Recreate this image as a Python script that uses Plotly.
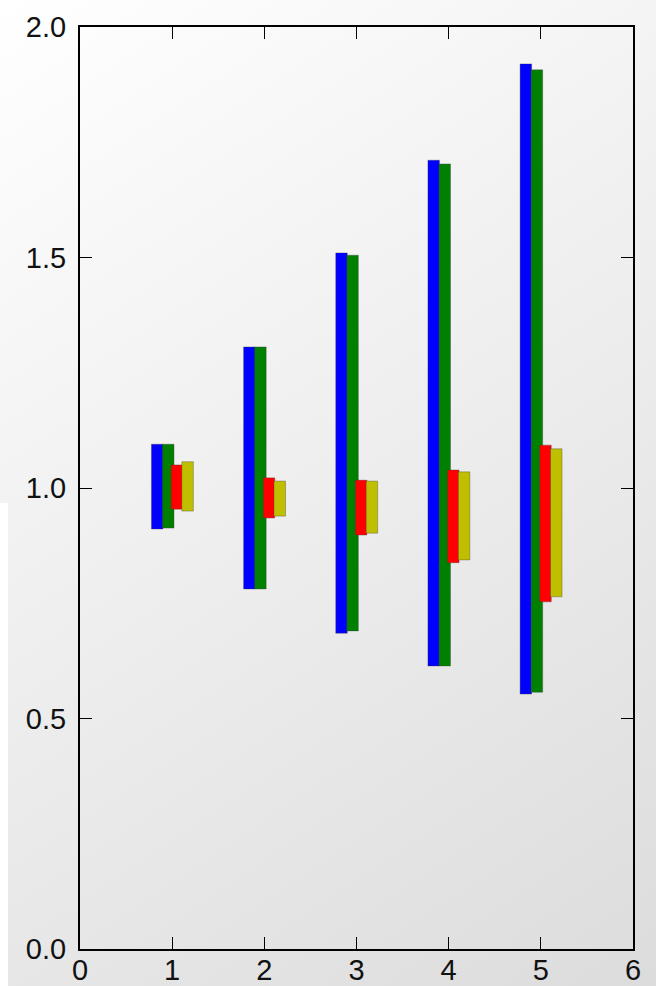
import base64
import plotly.graph_objects as go

groups = [1, 2, 3, 4, 5]

blue_top = [1.095, 1.306, 1.510, 1.711, 1.920]
blue_bottom = [0.911, 0.781, 0.685, 0.614, 0.553]
green_top = [1.095, 1.306, 1.505, 1.703, 1.907]
green_bottom = [0.913, 0.781, 0.690, 0.614, 0.557]
red_top = [1.050, 1.022, 1.017, 1.039, 1.093]
red_bottom = [0.954, 0.935, 0.898, 0.838, 0.753]
yellow_top = [1.057, 1.015, 1.015, 1.035, 1.085]
yellow_bottom = [0.950, 0.939, 0.902, 0.844, 0.764]

x_ticks = [0, 1, 2, 3, 4, 5, 6]
y_ticks = [0.0, 0.5, 1.0, 1.5, 2.0]
y_ticklabels = ["0.0", "0.5", "1.0", "1.5", "2.0"]

series = [
    (blue_top, blue_bottom, "#0000ff", -0.225),
    (green_top, green_bottom, "#008000", -0.105),
    (red_top, red_bottom, "#ff0000", -0.012),
    (yellow_top, yellow_bottom, "#bfbf00", 0.105),
]

fig = go.Figure()
for top, bottom, color, off in series:
    fig.add_trace(go.Bar(
        x=groups,
        y=[t - b for t, b in zip(top, bottom)],
        base=bottom,
        width=0.125,
        offset=off,
        marker=dict(color=color, line=dict(color="rgba(60,60,60,0.35)", width=1)),
        showlegend=False,
        hoverinfo="skip",
    ))

W, H = 656, 986
L, R, T, B = 80, 23, 27, 37
pw, ph = W - L - R, H - T - B

svg = (
    '<svg xmlns="http://www.w3.org/2000/svg" width="700" height="1030" '
    'preserveAspectRatio="none" viewBox="0 0 700 1030">'
    '<defs><linearGradient id="g" gradientUnits="userSpaceOnUse" '
    'x1="0" y1="0" x2="656" y2="986">'
    '<stop offset="0" stop-color="#ffffff"/>'
    '<stop offset="1" stop-color="#dcdcdc"/>'
    '</linearGradient></defs>'
    '<rect width="700" height="1030" fill="url(#g)"/>'
    '<rect x="0" y="503" width="8" height="527" fill="#ffffff"/>'
    '</svg>'
)
src = "data:image/svg+xml;base64," + base64.b64encode(svg.encode()).decode()

fig.update_layout(
    width=W, height=H,
    margin=dict(l=L, r=R, t=T, b=B, pad=0, autoexpand=False),
    paper_bgcolor="rgba(0,0,0,0)",
    plot_bgcolor="rgba(0,0,0,0)",
    barmode="overlay",
    font=dict(family="Liberation Sans, Arial, sans-serif", size=29, color="#111111"),
    images=[dict(
        source=src, xref="paper", yref="paper",
        x=-L / pw, y=1 + T / ph, sizex=700 / pw, sizey=1030 / ph,
        xanchor="left", yanchor="top", sizing="stretch", layer="below",
    )],
    xaxis=dict(
        range=[0, 6], tickvals=x_ticks, ticktext=[str(v) for v in x_ticks],
        showgrid=False, zeroline=False, showline=True, linecolor="#000000",
        linewidth=2, mirror="allticks", ticks="inside", ticklen=12,
        tickwidth=1.2, tickcolor="#000000", ticklabelstandoff=-6,
        automargin=False,
    ),
    yaxis=dict(
        range=[0, 2], tickvals=y_ticks, ticktext=y_ticklabels,
        showgrid=False, zeroline=False, showline=True, linecolor="#000000",
        linewidth=2, mirror="allticks", ticks="inside", ticklen=12,
        tickwidth=1.2, tickcolor="#000000", ticklabelstandoff=6,
        automargin=False,
    ),
)

fig.write_html("out.html")
